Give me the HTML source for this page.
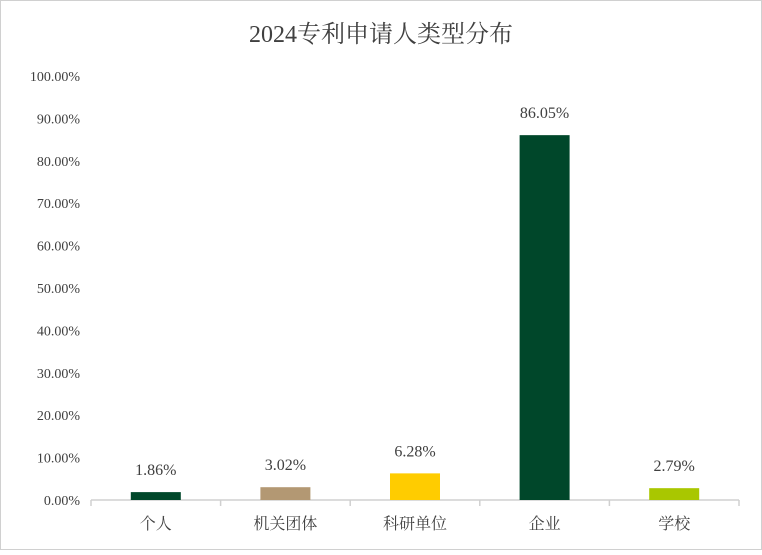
<!DOCTYPE html>
<html><head><meta charset="utf-8"><style>
body{margin:0;background:#fff}
svg text{font-family:"Liberation Serif","Noto Serif CJK SC",serif}
</style></head><body>
<svg id="c" width="762" height="550">
<rect x="0.5" y="0.5" width="761" height="549" fill="#fff" stroke="#d0d0d0"/>
<text x="381" y="42" text-anchor="middle" font-size="24" fill="#404040">2024专利申请人类型分布</text>
</svg>
<script>
const categories=["个人","机关团体","科研单位","企业","学校"];
const values=[1.86,3.02,6.28,86.05,2.79];
const valueLabels=["1.86%","3.02%","6.28%","86.05%","2.79%"];
const colors=["#00472A","#B39873","#FFCC00","#00472A","#A9C700"];
const yTicks=[0,10,20,30,40,50,60,70,80,90,100];
const yTickLabels=["0.00%","10.00%","20.00%","30.00%","40.00%","50.00%","60.00%","70.00%","80.00%","90.00%","100.00%"];
const svg=document.getElementById('c');const NS="http://www.w3.org/2000/svg";
const x0=91,x1=739,yB=500,yT=76;
const y=v=>yB-(v/100)*(yB-yT);
const band=(x1-x0)/categories.length;
const xc=i=>x0+band*(i+0.5);
function mk(t,a,txt){const e=document.createElementNS(NS,t);for(const k in a)e.setAttribute(k,a[k]);if(txt!=null)e.textContent=txt;svg.appendChild(e);return e;}
yTicks.forEach((v,i)=>{
const e=mk('text',{x:80,y:y(v)+5,'text-anchor':'end','font-size':14,fill:'#404040'},yTickLabels[i]);


});
const ax=mk('line',{x1:x0,x2:x1,y1:yB,y2:yB,stroke:'#d0d0d0','stroke-width':1.5});


for(let i=0;i<=categories.length;i++){
const t=mk('line',{x1:x0+band*i,x2:x0+band*i,y1:yB,y2:yB+6,stroke:'#d0d0d0','stroke-width':1.5});


}
categories.forEach((c,i)=>{
const r=mk('rect',{x:xc(i)-25,y:y(values[i]),width:50,height:yB-y(values[i]),fill:colors[i]});


const l=mk('text',{x:xc(i),y:y(values[i])-17,'text-anchor':'middle','font-size':16,fill:'#404040'},valueLabels[i]);


const cl=mk('text',{x:xc(i),y:529,'text-anchor':'middle','font-size':16,fill:'#404040'},c);


});
</script>
</body></html>
